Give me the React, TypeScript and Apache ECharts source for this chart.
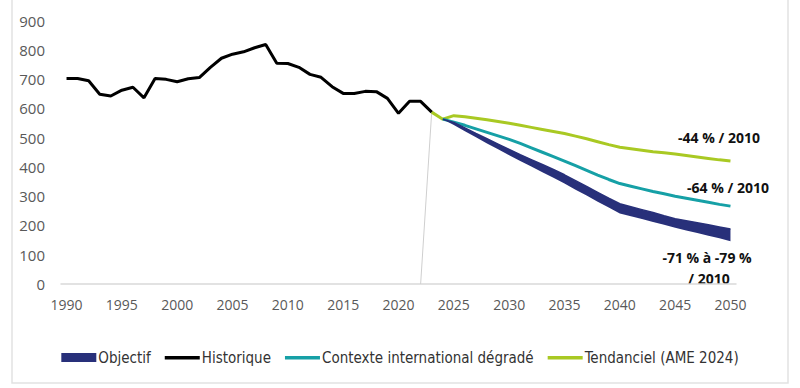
import React, { useEffect, useRef } from "react";
import * as echarts from "echarts";

const years: string[] = Array.from({ length: 61 }, (_, i) => String(1990 + i));

// Historique 1990-2023
const historique = [
  702, 702, 694, 648, 642, 662, 672, 636, 702, 699, 691, 701, 705, 740, 771,
  785, 793, 807, 818, 754, 753, 740, 716, 706, 674, 651, 651, 658, 657, 634,
  583, 624, 624, 587,
];
// Tendanciel (AME 2024), 2023-2050
const tendanciel = [
  587, 563, 575, 571, 566, 561, 555, 549, 542, 535, 528, 521, 514, 505, 496,
  486, 476, 467, 462, 457, 452, 448, 444, 439, 434, 429, 424, 420,
];
// Contexte international dégradé, 2024-2050
const contexte = [
  563, 553, 542, 530, 518, 506, 494, 480, 465, 450, 435, 420, 404, 388, 372,
  357, 343, 334, 325, 316, 308, 300, 293, 286, 279, 272, 266,
];
// Objectif band, 2024-2050
const objectifLow = [
  563, 543, 522, 501, 480, 460, 440, 420, 401, 382, 363, 343, 322, 302, 281,
  261, 241, 231, 222, 212, 202, 192, 183, 174, 165, 156, 146,
];
const objectifHigh = [
  563, 552, 533, 514, 496, 478, 460, 442, 425, 408, 391, 373, 353, 333, 313,
  293, 274, 264, 254, 244, 233, 223, 216, 209, 202, 195, 188,
];
// thin grey connector (2022-2023)
const greyConnector = [0, 587];

const annotations = [
  { text: "-44 % / 2010", x: 719, y: 137 },
  { text: "-64 % / 2010", x: 728, y: 187 },
  { text: "-71 % à -79 %", x: 707, y: 257 },
  { text: "/ 2010", x: 709, y: 278 },
];

function pad(start: number, vals: number[]) {
  const out: (number | string)[] = years.map(() => "-");
  vals.forEach((v, i) => {
    out[start - 1990 + i] = v;
  });
  return out;
}

const NAVY = "#28307a";
const TEAL = "#16a0a6";
const GREEN = "#a9c923";
const LINE_ICON =
  "path://M0,0h0.01v0.01h-0.01z M0,3h35v3.4h-35z M0,8.99h0.01v0.01h-0.01z";

export default function App() {
  const ref = useRef<HTMLDivElement>(null);
  useEffect(() => {
    if (!ref.current) return;
    const chart = echarts.init(ref.current, null, { renderer: "svg" });
    const bandWidth = objectifHigh.map((h, i) => h - objectifLow[i]);
    chart.setOption({
      animation: false,
      grid: { left: 61, right: 64, top: 20.5, bottom: 104 },
      xAxis: {
        type: "category",
        data: years,
        boundaryGap: true,
        axisLine: { lineStyle: { color: "#d9d9d9", width: 1.5 } },
        axisTick: { show: false },
        axisLabel: {
          interval: 4,
          color: "#595959",
          fontFamily: "Open Sans",
          fontSize: 14,
          margin: 13,
        },
      },
      yAxis: {
        type: "value",
        min: 0,
        max: 900,
        interval: 100,
        splitLine: { show: false },
        axisLine: { show: false },
        axisTick: { show: false },
        axisLabel: {
          color: "#595959",
          fontFamily: "Open Sans",
          fontSize: 15,
          margin: 16,
        },
      },
      legend: {
        top: 345,
        left: "center",
        itemWidth: 35,
        itemHeight: 9,
        itemGap: 14,
        textStyle: {
          fontFamily: "'DejaVu Sans Condensed', 'Liberation Sans', sans-serif",
          fontSize: 15,
          color: "#333",
          padding: [0, 0, 0, -3],
        },
        data: [
          { name: "Objectif", icon: "rect" },
          { name: "Historique", icon: LINE_ICON },
          { name: "Contexte international dégradé", icon: LINE_ICON },
          { name: "Tendanciel (AME 2024)", icon: LINE_ICON },
        ],
      },
      graphic: [
        {
          type: "rect",
          shape: { x: 12, y: -3, width: 776, height: 386 },
          style: { fill: "none", stroke: "#e2e2e2", lineWidth: 1.5 },
          silent: true,
        },
        ...annotations.map((a) => ({
          type: "text",
          x: a.x,
          y: a.y,
          style: {
            text: a.text,
            fill: "#111",
            font: "bold 14px 'Open Sans'",
            textAlign: "center",
            textVerticalAlign: "middle",
          },
        })),
      ],
      series: [
        {
          name: "connector",
          type: "line",
          data: pad(2022, greyConnector),
          symbol: "none",
          lineStyle: { color: "#cfcfcf", width: 1 },
          z: 1,
        },
        {
          name: "Tendanciel (AME 2024)",
          type: "line",
          data: pad(2023, tendanciel),
          symbol: "none",
          color: GREEN,
          lineStyle: { color: GREEN, width: 3 },
          z: 2,
        },
        {
          name: "Contexte international dégradé",
          type: "line",
          data: pad(2024, contexte),
          symbol: "none",
          color: TEAL,
          lineStyle: { color: TEAL, width: 3 },
          z: 3,
        },
        {
          name: "bandBase",
          type: "line",
          stack: "band",
          data: pad(2024, objectifLow),
          symbol: "none",
          lineStyle: { width: 0 },
          areaStyle: { opacity: 0 },
          z: 4,
        },
        {
          name: "Objectif",
          type: "line",
          stack: "band",
          data: pad(2024, bandWidth),
          symbol: "none",
          color: NAVY,
          lineStyle: { color: NAVY, width: 1.5 },
          areaStyle: { color: NAVY, opacity: 1 },
          z: 4,
        },
        {
          name: "Historique",
          type: "line",
          data: pad(1990, historique),
          symbol: "none",
          color: "#000",
          lineStyle: { color: "#000", width: 3 },
          z: 5,
        },
      ],
    });
    return () => chart.dispose();
  }, []);
  return (
    <div
      ref={ref}
      style={{ position: "absolute", left: 0, top: 0, width: 800, height: 388 }}
    />
  );
}
